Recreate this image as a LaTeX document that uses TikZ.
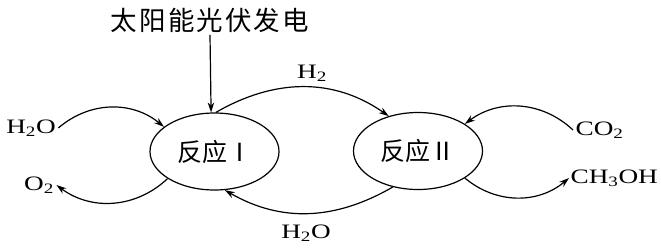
\documentclass[tikz,border=0pt]{standalone}
\usepackage{fontspec}
\newfontfamily\chemfont[FakeStretch=1.33]{Liberation Serif}
\newfontfamily\cjk{Noto Sans CJK SC}
\newfontfamily\cjkwide[LetterSpace=8]{Noto Sans CJK SC}
\usetikzlibrary{arrows.meta,shapes.geometric}

\begin{document}
\begin{tikzpicture}[x=1pt, y=1pt, line width=1.2pt, >={Stealth[length=10pt,width=6.5pt]},
	react/.style={draw, ellipse, minimum width=129pt, minimum height=77pt, inner sep=0pt, font=\cjk\fontsize{25}{25}\selectfont},
	chem/.style={inner sep=2pt, font=\chemfont\fontsize{20.5}{20.5}\selectfont}]
	\useasboundingbox (0,0) rectangle (661,250);
	\node[font=\cjkwide\fontsize{26.5}{26.5}\selectfont, inner sep=2pt] (sun) at (210,230) {太阳能光伏发电};
	\node[react] (r1) at (214.5,98.5) {反应Ⅰ};
	\node[react] (r2) at (418,99) {反应Ⅱ};
	\node[chem] (h2oin) at (31,122) {H\textsubscript{2}O};
	\node[chem] (o2) at (39,65) {O\textsubscript{2}};
	\node[chem] (h2) at (312,177) {H\textsubscript{2}};
	\node[chem] (h2ob) at (306,17) {H\textsubscript{2}O};
	\node[chem, anchor=west] (co2) at (573,120) {CO\textsubscript{2}};
	\node[chem, anchor=west, inner sep=1pt] (ch3oh) at (569,72) {CH\textsubscript{3}OH};
	\draw[->] (sun.south) -- (r1.95);
	\draw[->] (h2oin.east) to[bend left=40] (r1.154);
	\draw[->] (r1.210) to[bend left=40] (o2.east);
	\draw[->] (r1.88) to[out=30, in=145] (r2.130);
	\draw[->] (r2.235) to[out=210, in=-30] (r1.285);
	\draw[->] (co2.west) to[bend right=40] (r2.30);
	\draw[->] (r2.-30) to[bend right=40] (ch3oh.west);
\end{tikzpicture}
\end{document}
